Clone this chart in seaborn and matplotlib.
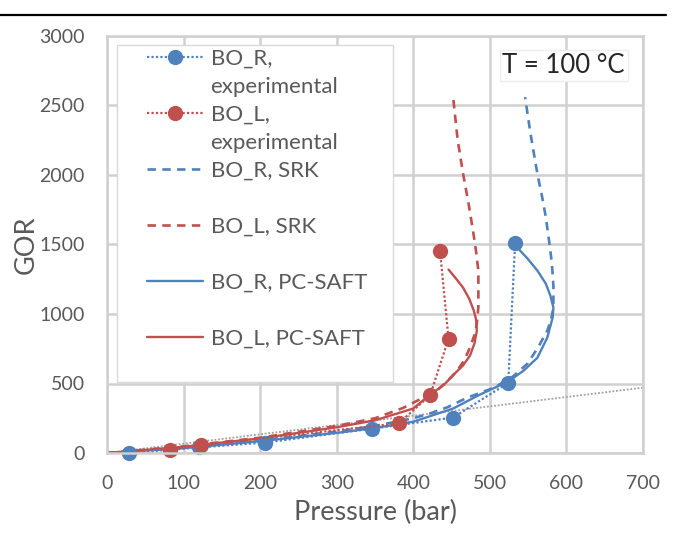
import matplotlib
matplotlib.use("Agg")
import matplotlib.pyplot as plt
from matplotlib.lines import Line2D
from matplotlib.patches import Rectangle
import seaborn as sns

# experimental points (pressure in bar, GOR)
bor_exp_p = [29, 120, 206, 346, 452, 524, 533]
bor_exp_gor = [0, 40, 75, 175, 255, 505, 1510]
bol_exp_p = [82, 123, 381, 422, 446, 435]
bol_exp_gor = [22, 58, 213, 415, 822, 1450]

# SRK model curves
bor_srk_p = [0, 100, 200, 300, 350, 400, 422, 445, 470, 505, 530, 549, 563, 575, 580,
             583, 583, 581, 578, 573, 568, 562, 553, 546]
bor_srk_gor = [0, 38, 90, 155, 195, 250, 285, 330, 397, 469, 550, 642, 760, 880, 960,
               1046, 1200, 1364, 1500, 1700, 1850, 2010, 2300, 2560]
bol_srk_p = [0, 100, 200, 300, 350, 387, 410, 431, 445, 457, 467, 474, 480, 483, 485,
             485, 485, 482, 478, 472, 465, 458, 452]
bol_srk_gor = [0, 48, 110, 195, 250, 325, 390, 450, 520, 590, 670, 760, 850, 930, 1050,
               1170, 1310, 1450, 1600, 1800, 2010, 2250, 2560]

# PC-SAFT model curves
bor_pc_p = [0, 100, 200, 300, 350, 400, 452, 487, 524, 544, 562, 575, 582, 583, 579,
            573, 562, 549, 533]
bor_pc_gor = [0, 35, 85, 145, 180, 225, 320, 420, 515, 592, 685, 830, 974, 1046, 1133,
              1219, 1313, 1400, 1494]
bol_pc_p = [0, 100, 200, 300, 350, 400, 422, 440, 452, 465, 474, 480, 483, 482, 479,
            473, 465, 455, 446]
bol_pc_gor = [0, 45, 105, 185, 235, 320, 420, 490, 560, 630, 700, 790, 880, 960, 1025,
              1110, 1190, 1260, 1320]

# dotted grey trend line
trend_p = [0, 700]
trend_gor = [0, 470]

BLUE = "#4F81BD"
RED = "#C0504D"
GRID = "#D0D0D0"
TXT = "#595959"

sns.set_style("white")
plt.rcParams["font.family"] = ["Lato", "DejaVu Sans"]

fig = plt.figure(figsize=(6.73, 5.43), dpi=100)
ax = fig.add_axes([107 / 673, 1 - 453 / 543, 536 / 673, 417 / 543])

dash = (0, (3.2, 2.4))
dot = (0, (1, 1))

sns.lineplot(x=trend_p, y=trend_gor, ax=ax, sort=False, estimator=None,
             color="#A0A0A0", linestyle=dot, linewidth=1.3, label="_trend")

sns.lineplot(x=bor_srk_p, y=bor_srk_gor, ax=ax, sort=False, estimator=None,
             color=BLUE, linestyle=dash, linewidth=1.9, label="BO_R, SRK")
sns.lineplot(x=bol_srk_p, y=bol_srk_gor, ax=ax, sort=False, estimator=None,
             color=RED, linestyle=dash, linewidth=1.9, label="BO_L, SRK")
sns.lineplot(x=bor_pc_p, y=bor_pc_gor, ax=ax, sort=False, estimator=None,
             color=BLUE, linestyle="-", linewidth=1.7, label="BO_R, PC-SAFT")
sns.lineplot(x=bol_pc_p, y=bol_pc_gor, ax=ax, sort=False, estimator=None,
             color=RED, linestyle="-", linewidth=1.7, label="BO_L, PC-SAFT")

sns.lineplot(x=bor_exp_p, y=bor_exp_gor, ax=ax, sort=False, estimator=None,
             color=BLUE, linestyle=dot, linewidth=1.6, marker="o", markersize=11,
             markeredgecolor=BLUE, markeredgewidth=0, clip_on=False,
             label="BO_R, experimental")
sns.lineplot(x=bol_exp_p, y=bol_exp_gor, ax=ax, sort=False, estimator=None,
             color=RED, linestyle=dot, linewidth=1.6, marker="o", markersize=11,
             markeredgecolor=RED, markeredgewidth=0, clip_on=False,
             label="BO_L, experimental")

ax.set_xlim(0, 700)
ax.set_ylim(0, 3000)
ax.set_xticks(range(0, 701, 100))
ax.set_yticks(range(0, 3001, 500))
ax.grid(True, color=GRID, linewidth=1.8)
ax.set_axisbelow(True)
for s in ax.spines.values():
    s.set_color(GRID)
    s.set_linewidth(1.8)
ax.tick_params(length=0, labelsize=14, labelcolor=TXT)
ax.tick_params(axis="x", pad=16)
ax.tick_params(axis="y", pad=16)
ax.set_xlabel("Pressure (bar)", fontsize=19.5, color=TXT, labelpad=5.5)
ax.set_ylabel("GOR", fontsize=19.5, color=TXT)
ax.yaxis.set_label_coords(-0.127, 0.5)

# legend box, wide as in the source
ax.add_patch(Rectangle((0.019, 0.170), 0.515, 0.808, transform=ax.transAxes,
                       facecolor="white", edgecolor="#D9D9D9", linewidth=1, zorder=1.5))

h, l = ax.get_legend_handles_labels()
lut = dict(zip(l, h))
blank = Line2D([], [], linestyle="none")
order = [
    (lut["BO_R, experimental"], "BO_R,"), (blank, "experimental"),
    (lut["BO_L, experimental"], "BO_L,"), (blank, "experimental"),
    (lut["BO_R, SRK"], "BO_R, SRK"), (blank, " "),
    (lut["BO_L, SRK"], "BO_L, SRK"), (blank, " "),
    (lut["BO_R, PC-SAFT"], "BO_R, PC-SAFT"), (blank, " "),
    (lut["BO_L, PC-SAFT"], "BO_L, PC-SAFT"),
]
leg = ax.legend([o[0] for o in order], [o[1] for o in order], loc="upper left",
                bbox_to_anchor=(0.0746, 0.970), frameon=False, fontsize=16,
                labelcolor=TXT, handlelength=2.5, handletextpad=0.36,
                labelspacing=0.36, borderaxespad=0, borderpad=0)
leg.set_zorder(5)

ax.text(0.852, 0.930, "T = 100 °C", transform=ax.transAxes, fontsize=18.5,
        color="#262626", ha="center", va="center", zorder=6,
        bbox=dict(facecolor="white", edgecolor="#EEEEEE", pad=2))

fig.add_artist(Line2D([0, 0.99], [1 - 15 / 543] * 2, transform=fig.transFigure,
                      color="black", linewidth=1.6))

fig.savefig("out.png", dpi=100)
